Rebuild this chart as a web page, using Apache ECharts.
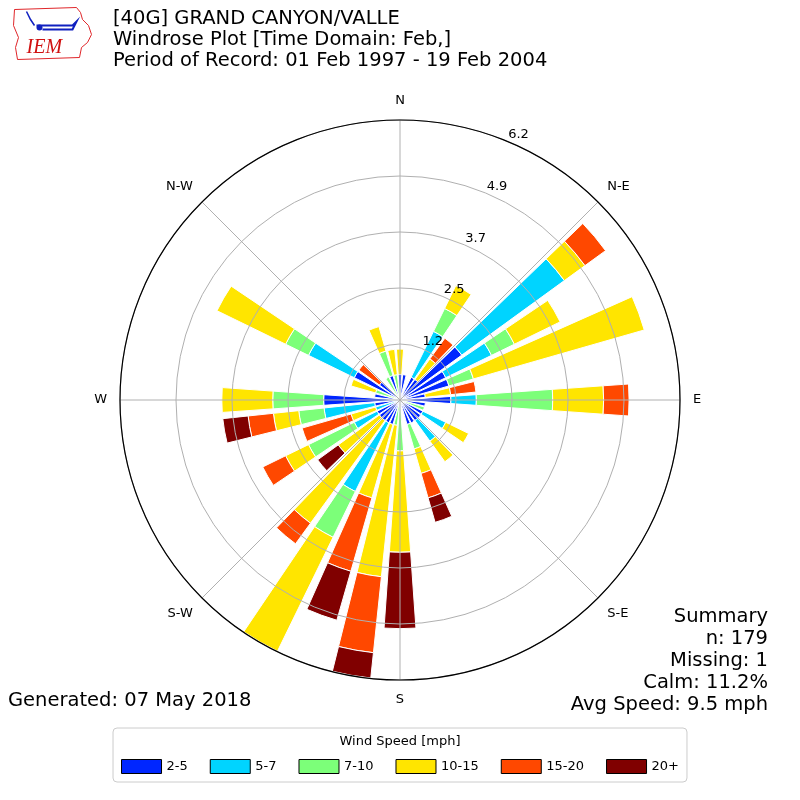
<!DOCTYPE html>
<html>
<head>
<meta charset="utf-8">
<script src="https://cdn.jsdelivr.net/npm/echarts@6.0.0/dist/echarts.min.js"></script>
<style>
html, body { margin: 0; padding: 0; background: #fff; }
#chart { width: 800px; height: 800px; }
</style>
</head>
<body>
<div id="chart"></div>
<script>
// Direcciones (cada 10 grados, desde el norte en sentido horario)
const directions = [];
for (let d = 0; d < 360; d += 10) directions.push(String(d));

const compassLabels = ['N', 'N-E', 'E', 'S-E', 'S', 'S-W', 'W', 'N-W'];
const speedBins = ['2-5', '5-7', '7-10', '10-15', '15-20', '20+'];
const binColors = ['#0026ff', '#00d4ff', '#7cff79', '#ffe500', '#ff4800', '#800000'];

// Frecuencias [%] por dirección, una lista por rango de velocidad
const speed2to5 = [0.56, 0.56, 0, 0.56, 0.56, 1.68, 1.12, 1.12, 0.56, 1.12,
    0.56, 0, 0.56, 0.56, 0.56, 0.56, 0.56, 0,
    0, 0, 0.56, 0.56, 0.56, 0.56, 0.56, 0, 0.56, 1.68,
    0.56, 0, 1.12, 0.56, 0, 0, 0.56, 0];
const speed5to7 = [0, 0, 0, 1.12, 0, 2.79, 1.12, 0, 0, 0.56,
    0, 0, 0.56, 0, 0.56, 0, 0, 0,
    0, 0, 0, 1.68, 0, 0, 0.56, 0.56, 1.12, 0,
    0, 0, 1.12, 0, 0, 0, 0, 0];
const speed7to10 = [0, 0, 0, 0.56, 0, 0, 0.56, 0.56, 0, 1.68,
    0, 0.56, 0, 0, 0, 0, 0.56, 0,
    1.12, 0.56, 0, 1.12, 0, 0, 1.12, 0, 0.56, 1.12,
    0, 0.56, 0.56, 0, 0, 0.56, 0.56, 0.56];
const speed10to15 = [0.56, 0, 0, 0.56, 0.56, 0.56, 1.12, 3.91, 0.56, 1.12,
    0, 0, 0.56, 0, 0.56, 0, 0.56, 0,
    2.23, 3.35, 1.68, 2.79, 2.79, 1.12, 0.56, 0.56, 0.56, 1.12,
    0, 0.56, 1.68, 0, 0, 0, 0.56, 0.56];
const speed15to20 = [0, 0, 0, 0, 0.56, 0.56, 0, 0, 0.56, 0.56,
    0, 0, 0, 0, 0, 0, 0.56, 0,
    0, 1.68, 1.68, 0, 0.56, 0, 0.56, 1.12, 0.56, 0,
    0, 0, 0, 0.56, 0, 0, 0, 0];
const speed20plus = [0, 0, 0, 0, 0, 0, 0, 0, 0, 0,
    0, 0, 0, 0, 0, 0, 0.56, 0,
    1.68, 0.56, 1.12, 0, 0, 0.56, 0, 0, 0.56, 0,
    0, 0, 0, 0, 0, 0, 0, 0];

const radiusMax = 6.16;
const radiusStep = 1.232;

const stationTitle = '[40G] GRAND CANYON/VALLE\nWindrose Plot [Time Domain: Feb,]\nPeriod of Record: 01 Feb 1997 - 19 Feb 2004';
const summaryText = 'Summary\nn: 179\nMissing: 1\nCalm: 11.2%\nAvg Speed: 9.5 mph';
const generatedText = 'Generated: 07 May 2018';

const chart = echarts.init(document.getElementById('chart'));
const allSpeeds = [speed2to5, speed5to7, speed7to10, speed10to15, speed15to20, speed20plus];

const polarCommon = { center: ['50%', '50%'], radius: 280 };

chart.setOption({
    animation: false,
    backgroundColor: '#fff',
    textStyle: { fontFamily: 'DejaVu Sans' },
    title: [
        {
            text: stationTitle, left: 113, top: 8, padding: 0,
            textStyle: { fontSize: 19.5, fontWeight: 'normal', color: '#000', lineHeight: 21 }
        },
        {
            text: summaryText, left: 768, top: 606, padding: 0, textAlign: 'right',
            textStyle: { fontSize: 19.5, fontWeight: 'normal', color: '#000', lineHeight: 22 }
        },
        {
            text: generatedText, left: 8, top: 691, padding: 0,
            textStyle: { fontSize: 19.5, fontWeight: 'normal', color: '#000' }
        },
        {
            text: 'Wind Speed [mph]', left: 'center', top: 735, padding: 0,
            textStyle: { fontSize: 13, fontWeight: 'normal', color: '#000' }
        }
    ],
    legend: {
        data: speedBins, left: 'center', top: 728,
        icon: 'rect', itemWidth: 40, itemHeight: 14, itemGap: 22,
        padding: [31, 8, 8, 8],
        borderColor: '#cccccc', borderWidth: 1, borderRadius: 4,
        textStyle: { fontSize: 13, color: '#000' },
        itemStyle: { borderColor: '#000', borderWidth: 1 }
    },
    polar: [polarCommon, polarCommon, polarCommon],
    angleAxis: [
        {
            polarIndex: 0, type: 'value', min: 0, max: 360, interval: 45,
            startAngle: 90, clockwise: true, z: 5,
            axisLine: { show: true, lineStyle: { color: '#000', width: 1.2 } },
            axisTick: { show: false },
            axisLabel: {
                fontSize: 13, color: '#000', margin: 13,
                align: 'center', verticalAlign: 'middle',
                formatter: v => compassLabels[v / 45] || ''
            },
            splitLine: { show: true, lineStyle: { color: '#b0b0b0', width: 1 } }
        },
        {
            polarIndex: 1, type: 'category', data: directions,
            startAngle: 95, clockwise: true, show: false
        },
        {
            polarIndex: 2, type: 'value', min: 0, max: 360,
            startAngle: 67.5, show: false
        }
    ],
    radiusAxis: [
        {
            polarIndex: 0, type: 'value', min: 0, max: radiusMax, interval: radiusStep, z: 5,
            axisLine: { show: false }, axisTick: { show: false }, axisLabel: { show: false },
            splitLine: { show: true, lineStyle: { color: '#b0b0b0', width: 1 } }
        },
        {
            polarIndex: 1, type: 'value', min: 0, max: radiusMax, show: false
        },
        {
            polarIndex: 2, type: 'value', min: 0, max: radiusMax, interval: radiusStep, z: 6,
            axisLine: { show: false }, axisTick: { show: false }, splitLine: { show: false },
            axisLabel: {
                show: true, fontSize: 13, color: '#000', showMinLabel: false,
                margin: 0, align: 'left', verticalAlign: 'bottom', padding: [0, 0, 0, 1],
                formatter: v => v === 0 ? '' : v.toFixed(1)
            }
        }
    ],
    series: speedBins.map((name, i) => ({
        name: name,
        type: 'bar',
        coordinateSystem: 'polar',
        polarIndex: 1,
        stack: 'wind',
        barCategoryGap: '20%',
        data: allSpeeds[i].map(v => v > 0 ? v : null),
        itemStyle: { color: binColors[i], borderColor: '#fff', borderWidth: 1 }
    })),
    graphic: [
        {
            type: 'group', left: 11, top: 5,
            children: [
                {
                    type: 'polyline',
                    shape: { points: [[2, 2], [64, 0], [68, 5], [70, 12], [76, 18], [79, 27], [75, 35], [69, 40], [67, 50], [5, 52], [3, 40], [6, 30], [1, 18], [2, 2]] },
                    style: { stroke: '#e0262a', lineWidth: 1, fill: null }
                },
                {
                    type: 'polyline',
                    shape: { points: [[14, 4], [18, 12], [22, 18]] },
                    style: { stroke: '#1020c0', lineWidth: 1.5, fill: null }
                },
                {
                    type: 'polyline',
                    shape: { points: [[24, 18], [60, 18], [64, 14], [60, 22], [30, 22]] },
                    style: { stroke: '#1020c0', lineWidth: 2, fill: null }
                },
                {
                    type: 'circle', shape: { cx: 27, cy: 20, r: 3 },
                    style: { fill: '#1020c0' }
                },
                {
                    type: 'text',
                    style: { text: 'IEM', x: 14, y: 30, fill: '#d01010', font: 'italic 20px "Liberation Serif"' }
                }
            ]
        }
    ]
});
</script>
</body>
</html>
